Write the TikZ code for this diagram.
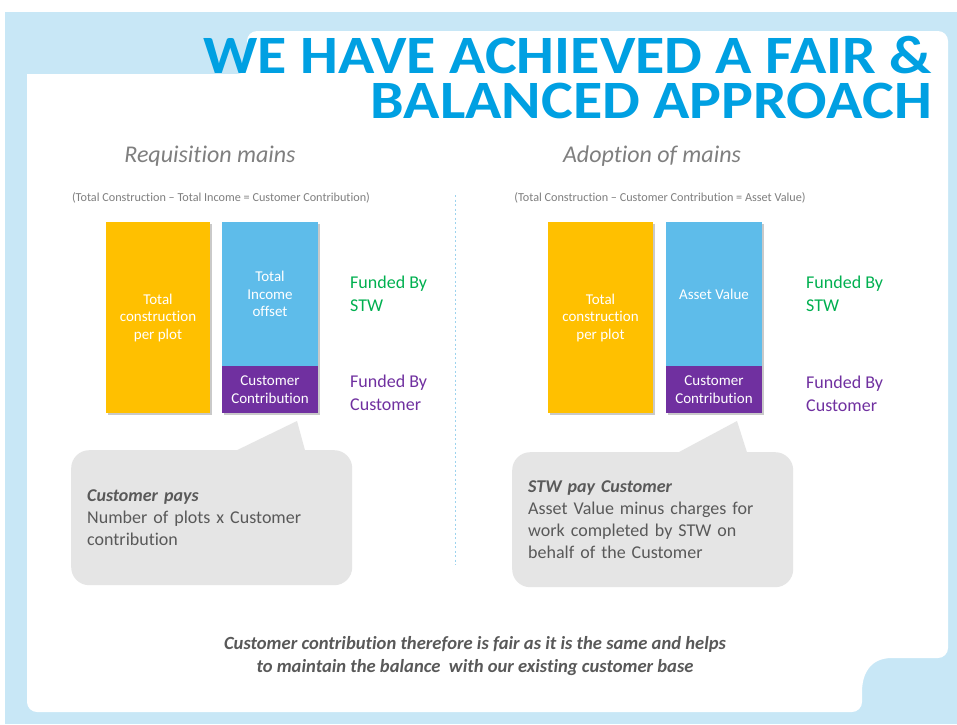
\documentclass[tikz,border=0pt]{standalone}
\usepackage{fontspec}
\setmainfont{Carlito}[Ligatures=NoCommon]
\usetikzlibrary{shadows,calc}
\definecolor{bgblue}{HTML}{C8E7F6}
\definecolor{titleblue}{HTML}{00A0E2}
\definecolor{baryellow}{HTML}{FFC000}
\definecolor{barblue}{HTML}{5EBCEA}
\definecolor{barpurple}{HTML}{7030A0}
\definecolor{fundgreen}{HTML}{00B050}
\definecolor{calloutgray}{HTML}{E5E5E5}
\definecolor{textgray}{HTML}{595959}
\definecolor{subgray}{HTML}{7F7F7F}
\definecolor{divider}{HTML}{9DD3EE}
\begin{document}
\begin{tikzpicture}[x=1pt,y=-1pt,
  bar/.style={inner sep=0pt, align=center, text=white, font=\fontsize{15}{17.5}\selectfont,
    drop shadow={shadow xshift=2pt, shadow yshift=-2pt, opacity=.35, fill=black!60}},
  titletext/.style={anchor=base east, inner sep=0pt, text height=36pt, text depth=0pt, text=titleblue, font=\fontsize{54}{45}\selectfont\bfseries},
  subtitle/.style={inner sep=0pt, text=subgray, font=\fontsize{24}{26}\selectfont\itshape},
  formula/.style={inner sep=0pt, text=subgray, font=\fontsize{12.2}{14}\selectfont},
  funded/.style={anchor=west, inner sep=0pt, align=left, font=\fontsize{18}{23}\selectfont},
  callout/.style={anchor=north west, fill=calloutgray, rounded corners=18pt, minimum width=281pt,
    minimum height=135pt, inner xsep=16pt, inner ysep=0pt, text width=249pt, align=left,
    text=textgray, font=\fontsize{18}{22}\selectfont},
  pointer/.style={fill=calloutgray}
]
\useasboundingbox (0,0) rectangle (957,724);
\fill[white] (0,0) rectangle (957,724);
\fill[bgblue] (5,12) rectangle (957,724);
% white panel
\fill[white, rounded corners=10pt]
  (27,400) -- (27,74) -- (247,74) [sharp corners] -- (247,74) [rounded corners=10pt] -- (247,31) -- (948,31) -- (948,658) [sharp corners]
  -- (892,658) .. controls (870,658) and (862,674) .. (862,692) [rounded corners=10pt] -- (862,712) -- (27,712) -- cycle;
\fill[white] (27,74) rectangle (257,86);
% title
\node[titletext] (t1) at (932,73) {\scalebox{1.11}[1]{WE HAVE ACHIEVED A FAIR \&}};
\node[titletext] (t2) at (932,118) {\scalebox{1.11}[1]{BALANCED APPROACH}};
% subtitles
\node[subtitle] (s1) at (210,156) {Requisition mains};
\node[subtitle] (s2) at (652,156) {Adoption of mains};
\node[formula] (f1) at (221,198) {(Total Construction – Total Income = Customer Contribution)};
\node[formula] (f2) at (660,198) {(Total Construction – Customer Contribution = Asset Value)};
% divider
\coordinate (d1) at (455,195);
\coordinate (d2) at (455,565);
\draw[divider, line width=1pt, dash pattern=on 2pt off 2.5pt] (d1) -- (d2);
% left bars
\node[bar, fill=baryellow, minimum width=104pt, minimum height=191pt] (ly) at (158,317.5) {Total\\construction\\per plot};
\node[bar, fill=barblue, minimum width=96pt, minimum height=144pt] (lb) at (270,294) {Total\\Income\\offset};
\node[bar, fill=barpurple, minimum width=96pt, minimum height=47pt] (lp) at (270,389.5) {Customer\\Contribution};
\node[funded, text=fundgreen] (lg) at (350,293.5) {Funded By\\STW};
\node[funded, text=barpurple] (lc) at (350,392.5) {Funded By\\Customer};
% right bars
\node[bar, fill=baryellow, minimum width=105pt, minimum height=191pt] (ry) at (600.5,317.5) {Total\\construction\\per plot};
\node[bar, fill=barblue, minimum width=96pt, minimum height=144pt] (rb) at (714,294) {Asset Value};
\node[bar, fill=barpurple, minimum width=96pt, minimum height=47pt] (rp) at (714,389.5) {Customer\\Contribution};
\node[funded, text=fundgreen] (rg) at (806,293.5) {Funded By\\STW};
\node[funded, text=barpurple] (rc) at (806,393.5) {Funded By\\Customer};
% callouts
\node[callout] (cl) at (71,450) {\textbf{\textit{Customer pays}}\\Number of plots x Customer\\contribution};
\coordinate (tipl) at (297,421);
\fill[pointer] ($(cl.north)+(23.5,1)$) -- (tipl) -- ($(cl.north)+(93.5,1)$) -- cycle;
\node[callout] (cr) at (512,452) {\textbf{\textit{STW pay Customer}}\\Asset Value minus charges for\\work completed by STW on\\behalf of the Customer};
\coordinate (tipr) at (737,421);
\fill[pointer] ($(cr.north)+(24.5,1)$) -- (tipr) -- ($(cr.north)+(94.5,1)$) -- cycle;
% bottom text
\node[inner sep=0pt, align=center, text=textgray, font=\fontsize{18.6}{23}\selectfont\bfseries\itshape] (bt) at (475,656)
  {Customer contribution therefore is fair as it is the same and helps\\to maintain the balance\ \ with our existing customer base};
\end{tikzpicture}
\end{document}
